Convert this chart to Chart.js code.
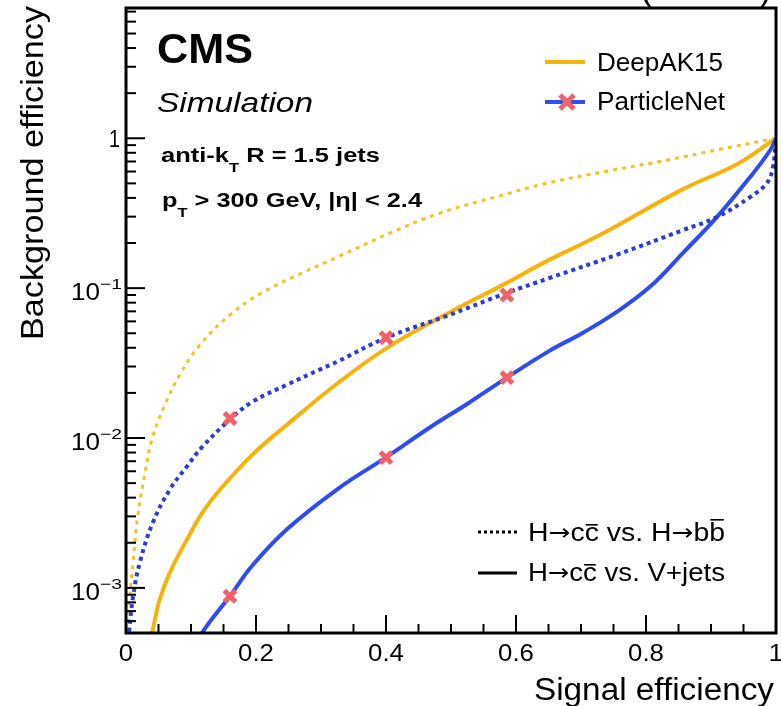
<!DOCTYPE html>
<html lang="en">
<head>
<meta charset="UTF-8">
<title>ROC curves</title>
<script src="https://cdn.jsdelivr.net/npm/chart.js"></script>
<style>
    body { margin: 0; background: #fff; }
    #roc { display: block; }
</style>
</head>
<body>
<canvas id="roc" width="781" height="706"></canvas>
<script>
    // --- data ---
    // DeepAK15, H->cc vs V+jets (solid)
    const deepVjSig = [0.037, 0.0415, 0.052, 0.068, 0.094, 0.118, 0.145, 0.195, 0.248, 0.325, 0.40, 0.494, 0.585, 0.648, 0.729, 0.857, 0.94, 1.0];
    const deepVjBkg = [4.2e-4, 5.33e-4, 8.4e-4, 1.28e-3, 2.11e-3, 3.2e-3, 4.55e-3, 7.78e-3, 0.0123, 0.0231, 0.0395, 0.0675, 0.108, 0.152, 0.226, 0.458, 0.671, 1.0];
    // DeepAK15, H->cc vs H->bb (dotted)
    const deepBbSig = [0.003, 0.006, 0.011, 0.018, 0.029, 0.040, 0.060, 0.083, 0.114, 0.16, 0.209, 0.268, 0.325, 0.406, 0.483, 0.568, 0.648, 0.74, 0.832, 0.914, 1.0];
    const deepBbBkg = [5.09e-4, 8.83e-4, 1.49e-3, 3.01e-3, 5.73e-3, 9.8e-3, 0.0167, 0.0265, 0.042, 0.0664, 0.093, 0.1245, 0.161, 0.233, 0.317, 0.405, 0.502, 0.603, 0.714, 0.845, 1.0];
    // ParticleNet, H->cc vs H->bb (dotted)
    const pnBbSig = [0.0046, 0.011, 0.0215, 0.0415, 0.0677, 0.0938, 0.118, 0.16, 0.195, 0.248, 0.298, 0.325, 0.40, 0.494, 0.586, 0.652, 0.755, 0.857, 0.909, 0.96, 0.986, 0.995, 1.0];
    const pnBbBkg = [5.09e-4, 8.83e-4, 1.49e-3, 2.74e-3, 4.55e-3, 6.47e-3, 8.79e-3, 0.0133, 0.0175, 0.0227, 0.0286, 0.0323, 0.0466, 0.0654, 0.093, 0.117, 0.167, 0.244, 0.298, 0.405, 0.502, 0.632, 1.0];
    // ParticleNet, H->cc vs V+jets (solid)
    const pnVjSig = [0.111, 0.118, 0.16, 0.195, 0.248, 0.325, 0.40, 0.468, 0.526, 0.586, 0.652, 0.703, 0.755, 0.806, 0.857, 0.909, 0.96, 0.991, 1.0];
    const pnVjBkg = [4.2e-4, 5.09e-4, 8.83e-4, 1.42e-3, 2.47e-3, 4.55e-3, 7.43e-3, 0.0118, 0.017, 0.0253, 0.0383, 0.0504, 0.0695, 0.102, 0.172, 0.298, 0.55, 0.832, 1.0];
    // ParticleNet working points (markers)
    const markSig = [0.16, 0.40, 0.586];
    const markPnBb = [0.0135, 0.0467, 0.09];
    const markPnVj = [0.00088, 0.0074, 0.0253];

    const xTickVals = [0, 0.2, 0.4, 0.6, 0.8, 1];
    const xTickLabels = ['0', '0.2', '0.4', '0.6', '0.8', '1'];
    const yTickVals = [1e-3, 1e-2, 1e-1, 1];
    const yTickBase = ['10', '10', '10', '1'];
    const yTickExp = ['\u22123', '\u22122', '\u22121', ''];

    const FONT = '"Liberation Sans", Arial, Helvetica, sans-serif';
    const YELLOW = '#f5b30c';
    const YELLOW_DOT = '#f2c321';
    const BLUE = '#2f4cf0';
    const BLUE_DOT = '#2a3bd8';
    const RED = '#f2616a';

    function pts(xs, ys) {
        return xs.map((x, i) => ({ x: x, y: ys[i] }));
    }

    // draw a string squeezed/stretched to a given width
    function fitText(ctx, s, font, x, y, w, align) {
        ctx.font = font;
        const k = w / ctx.measureText(s).width;
        ctx.save();
        ctx.translate(x, y);
        ctx.scale(k, 1);
        ctx.textAlign = align || 'left';
        ctx.textBaseline = 'alphabetic';
        ctx.fillText(s, 0, 0);
        ctx.restore();
    }

    // pieces: {t, font, dy, bar} drawn one after the other, whole thing scaled to width w
    function richText(ctx, pieces, x, y, w) {
        let total = 0;
        pieces.forEach(p => { ctx.font = p.font; p.w = ctx.measureText(p.t).width; total += p.w; });
        const k = w / total;
        let cx = x;
        pieces.forEach(p => {
            ctx.save();
            ctx.translate(cx, y + (p.dy || 0));
            ctx.scale(k, 1);
            ctx.font = p.font;
            ctx.textAlign = 'left';
            ctx.textBaseline = 'alphabetic';
            ctx.fillText(p.t, 0, 0);
            if (p.bar) {
                ctx.fillRect(1, -p.bar, p.w - 2, 1.6);
            }
            ctx.restore();
            cx += p.w * k;
        });
    }

    function seg(ctx, x1, y1, x2, y2) {
        ctx.beginPath();
        ctx.moveTo(x1, y1);
        ctx.lineTo(x2, y2);
        ctx.stroke();
    }

    const decor = {
        id: 'decor',
        afterDraw(chart) {
            const ctx = chart.ctx;
            const xs = chart.scales.x, ys = chart.scales.y;
            const a = chart.chartArea;
            ctx.save();
            ctx.fillStyle = '#000';
            ctx.strokeStyle = '#000';

            // frame
            ctx.lineWidth = 3;
            ctx.strokeRect(a.left, a.top, a.right - a.left, a.bottom - a.top);

            // x ticks, pointing into the plot
            ctx.lineWidth = 2;
            for (let i = 0; i <= 20; i++) {
                const px = xs.getPixelForValue(i * 0.05);
                seg(ctx, px, a.bottom, px, a.bottom - (i % 4 === 0 ? 18 : 9));
            }
            // y ticks (log)
            for (let e = -4; e <= 0; e++) {
                for (let m = 1; m <= 9; m++) {
                    const v = m * Math.pow(10, e);
                    if (v < ys.min || v > ys.max) continue;
                    const py = ys.getPixelForValue(v);
                    seg(ctx, a.left, py, a.left + (m === 1 ? 19 : 10), py);
                }
            }

            // x tick labels
            xTickVals.forEach((v, i) => {
                const px = xs.getPixelForValue(v);
                ctx.font = '23px ' + FONT;
                const w = ctx.measureText(xTickLabels[i]).width * 1.12;
                fitText(ctx, xTickLabels[i], '23px ' + FONT, px, 661, w, 'center');
            });
            // y tick labels
            yTickVals.forEach((v, i) => {
                const py = ys.getPixelForValue(v);
                if (yTickExp[i]) {
                    fitText(ctx, yTickBase[i], '23px ' + FONT, 100, py + 12, 29, 'right');
                    fitText(ctx, yTickExp[i], '15px ' + FONT, 100, py + 1, 22, 'left');
                } else {
                    fitText(ctx, yTickBase[i], '23px ' + FONT, 120, py + 9, 11, 'right');
                }
            });

            // axis titles
            fitText(ctx, 'Signal efficiency', '31px ' + FONT, 774, 700, 240, 'right');
            ctx.save();
            ctx.translate(43, 6);
            ctx.rotate(-Math.PI / 2);
            fitText(ctx, 'Background efficiency', '31px ' + FONT, 0, 0, 334, 'right');
            ctx.restore();

            // top-right label, mostly cut off
            fitText(ctx, '(13 TeV)', '36px ' + FONT, 640, -1, 132, 'left');

            // CMS labels
            fitText(ctx, 'CMS', 'bold 42px ' + FONT, 157, 63, 96, 'left');
            fitText(ctx, 'Simulation', 'italic 27px ' + FONT, 157, 112, 156, 'left');
            richText(ctx, [
                { t: 'anti-k', font: 'bold 20px ' + FONT },
                { t: 'T', font: 'bold 13px ' + FONT, dy: 10 },
                { t: ' R = 1.5 jets', font: 'bold 20px ' + FONT }
            ], 161, 162, 219);
            richText(ctx, [
                { t: 'p', font: 'bold 20px ' + FONT },
                { t: 'T', font: 'bold 13px ' + FONT, dy: 10 },
                { t: ' > 300 GeV, |\u03b7| < 2.4', font: 'bold 20px ' + FONT }
            ], 162, 207, 260);

            // legend: algorithms
            ctx.lineWidth = 4;
            ctx.strokeStyle = YELLOW;
            seg(ctx, 545, 62, 585, 62);
            ctx.strokeStyle = BLUE;
            seg(ctx, 545, 102, 585, 102);
            ctx.strokeStyle = RED;
            ctx.lineWidth = 5;
            seg(ctx, 560, 95, 574, 109);
            seg(ctx, 560, 109, 574, 95);
            ctx.fillStyle = '#000';
            fitText(ctx, 'DeepAK15', '25px ' + FONT, 597, 71, 126, 'left');
            fitText(ctx, 'ParticleNet', '25px ' + FONT, 597, 110, 128, 'left');

            // legend: line styles
            ctx.strokeStyle = '#000';
            ctx.lineWidth = 3;
            ctx.setLineDash([3, 3]);
            seg(ctx, 478, 532, 517, 532);
            ctx.setLineDash([]);
            seg(ctx, 478, 573, 517, 573);
            const f = '25px ' + FONT;
            const arr = '23px "DejaVu Sans", ' + FONT;
            richText(ctx, [
                { t: 'H', font: f },
                { t: '\u2192', font: arr, dy: -1 },
                { t: 'c', font: f },
                { t: 'c', font: f, bar: 17 },
                { t: ' vs. H', font: f },
                { t: '\u2192', font: arr, dy: -1 },
                { t: 'b', font: f },
                { t: 'b', font: f, bar: 22 }
            ], 528, 541, 197);
            richText(ctx, [
                { t: 'H', font: f },
                { t: '\u2192', font: arr, dy: -1 },
                { t: 'c', font: f },
                { t: 'c', font: f, bar: 17 },
                { t: ' vs. V+jets', font: f }
            ], 528, 581, 197);

            ctx.restore();
        }
    };

    const curveBase = { showLine: true, pointRadius: 0, fill: false, tension: 0.4 };

    new Chart(document.getElementById('roc'), {
        type: 'scatter',
        data: {
            datasets: [
                { data: pts(markSig, markPnBb), pointStyle: 'crossRot', pointRadius: 8, borderWidth: 5,
                  borderColor: RED, backgroundColor: RED, showLine: false },
                { data: pts(markSig, markPnVj), pointStyle: 'crossRot', pointRadius: 8, borderWidth: 5,
                  borderColor: RED, backgroundColor: RED, showLine: false },
                Object.assign({ data: pts(pnBbSig, pnBbBkg), borderColor: BLUE_DOT, borderWidth: 4, borderDash: [4, 4] }, curveBase),
                Object.assign({ data: pts(pnVjSig, pnVjBkg), borderColor: BLUE, borderWidth: 4 }, curveBase),
                Object.assign({ data: pts(deepBbSig, deepBbBkg), borderColor: YELLOW_DOT, borderWidth: 3, borderDash: [4, 5] }, curveBase),
                Object.assign({ data: pts(deepVjSig, deepVjBkg), borderColor: YELLOW, borderWidth: 4 }, curveBase)
            ]
        },
        options: {
            responsive: false,
            animation: false,
            events: [],
            layout: { autoPadding: false, padding: { top: 8, right: 5, left: 0, bottom: 0 } },
            plugins: { legend: { display: false }, tooltip: { enabled: false } },
            scales: {
                x: {
                    type: 'linear', min: 0, max: 1,
                    grid: { display: false }, border: { display: false },
                    ticks: { display: false, stepSize: 0.2 },
                    afterFit: s => { s.height = 73; s.paddingLeft = 0; s.paddingRight = 0; }
                },
                y: {
                    type: 'logarithmic', min: 5e-4, max: 7.4,
                    grid: { display: false }, border: { display: false },
                    ticks: { display: false },
                    afterFit: s => { s.width = 126; s.paddingTop = 0; s.paddingBottom = 0; }
                }
            }
        },
        plugins: [decor]
    });
</script>
</body>
</html>
